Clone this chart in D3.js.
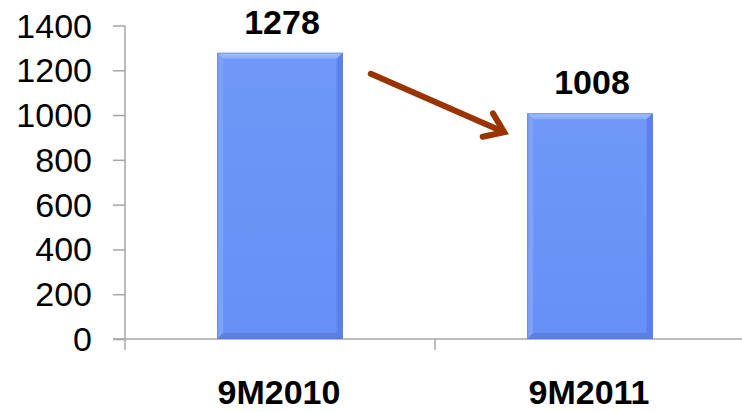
<!DOCTYPE html>
<html>
<head>
<meta charset="utf-8">
<script src="https://cdn.jsdelivr.net/npm/d3@7"></script>
<style>
  html, body { margin: 0; padding: 0; background: #fff; }
  svg { display: block; font-family: "Liberation Sans", Arial, sans-serif; }
</style>
</head>
<body>
<svg id="chart" width="742" height="412"></svg>
<script>
// Period totals
const categories = ["9M2010", "9M2011"];
const values = [1278, 1008];
const yTicks = [0, 200, 400, 600, 800, 1000, 1200, 1400];

const svg = d3.select("#chart");
const W = 742, H = 412;

const y = d3.scaleLinear().domain([0, 1400]).range([339, 25.5]);
const x = d3.scaleBand().domain(categories).range([125, 745]).padding(0);
const barW = x.bandwidth() * 0.405;
const axisColor = "#a6a6a6";

// Y axis
const yAxis = svg.append("g").attr("transform", "translate(125,0)")
  .call(d3.axisLeft(y).tickValues(yTicks).tickSize(12).tickPadding(21).tickFormat(d3.format("d")));
yAxis.select(".domain").attr("stroke", axisColor).attr("stroke-width", 1.5).attr("d", `M0,${y(1400)}V${y(0)}`);
yAxis.selectAll(".tick line").attr("stroke", axisColor).attr("stroke-width", 1.5);
yAxis.selectAll(".tick text").attr("font-size", 34).attr("fill", "#000").attr("dy", "0.34em");

// X axis baseline and category dividers
svg.append("line").attr("x1", 113).attr("x2", 742).attr("y1", y(0)).attr("y2", y(0))
  .attr("stroke", axisColor).attr("stroke-width", 1.5);
const dividers = [x.range()[0], ...categories.slice(1).map(c => x(c))];
svg.selectAll(".xtick").data(dividers).enter().append("line")
  .attr("x1", d => d).attr("x2", d => d).attr("y1", y(0)).attr("y2", y(0) + 11)
  .attr("stroke", axisColor).attr("stroke-width", 1.5);

svg.selectAll(".cat").data(categories).enter().append("text")
  .attr("x", d => x(d) + x.bandwidth() / 2 - 1)
  .attr("y", 404)
  .attr("text-anchor", "middle").attr("font-size", 34).attr("font-weight", "bold")
  .text(d => d);

// Gradients for the bevelled bars
const defs = svg.append("defs");
const gTop = defs.append("linearGradient").attr("id", "bevTop").attr("x1", 0).attr("y1", 0).attr("x2", 0).attr("y2", 1);
gTop.append("stop").attr("offset", 0).attr("stop-color", "#a9c3fc");
gTop.append("stop").attr("offset", 1).attr("stop-color", "#86a9f9");
const gBody = defs.append("linearGradient").attr("id", "body").attr("x1", 0).attr("y1", 0).attr("x2", 0).attr("y2", 1);
gBody.append("stop").attr("offset", 0).attr("stop-color", "#6f98f8");
gBody.append("stop").attr("offset", 1).attr("stop-color", "#6690f5");

const bev = 6;
const bars = svg.selectAll(".bar").data(categories.map((c, i) => ({ c, v: values[i] }))).enter().append("g");
bars.each(function(d) {
  const g = d3.select(this);
  const x0 = x(d.c) + (x.bandwidth() - barW) / 2, x1 = x0 + barW;
  const y0 = y(d.v), y1 = y(0);
  g.append("rect").attr("x", x0).attr("y", y0).attr("width", barW).attr("height", y1 - y0).attr("fill", "url(#body)");
  // top bevel
  g.append("path").attr("d", `M${x0},${y0}H${x1}L${x1 - bev},${y0 + bev}H${x0 + bev}Z`).attr("fill", "url(#bevTop)");
  // left bevel
  g.append("path").attr("d", `M${x0},${y0}L${x0 + bev},${y0 + bev}V${y1 - bev}L${x0},${y1}Z`).attr("fill", "#7ea2f9");
  // right bevel
  g.append("path").attr("d", `M${x1},${y0}L${x1 - bev},${y0 + bev}V${y1 - bev}L${x1},${y1}Z`).attr("fill", "#5a82e6");
  // bottom bevel
  g.append("path").attr("d", `M${x0},${y1}L${x0 + bev},${y1 - bev}H${x1 - bev}L${x1},${y1}Z`).attr("fill", "#5b80e0");
  g.append("rect").attr("x", x0 + 0.5).attr("y", y0 + 0.5).attr("width", barW - 1).attr("height", y1 - y0 - 1)
    .attr("fill", "none").attr("stroke", "#5a78c8").attr("stroke-opacity", 0.55).attr("stroke-width", 1);
  g.append("text").attr("x", x0 + barW / 2 + 2).attr("y", y0 - 19)
    .attr("text-anchor", "middle").attr("font-size", 34).attr("font-weight", "bold").text(d.v);
});

// Trend arrow between the two bars
const b0 = x(categories[0]) + (x.bandwidth() + barW) / 2;
const b1 = x(categories[1]) + (x.bandwidth() - barW) / 2;
const sx = b0 + 28, sy = y(values[0]) + 21;
const ex = b1 - 23, ey = y(values[1]) + 19;
const ang = Math.atan2(ey - sy, ex - sx);
const arrowColor = "#993300";
svg.append("line").attr("x1", sx).attr("y1", sy).attr("x2", ex - 3 * Math.cos(ang)).attr("y2", ey - 3 * Math.sin(ang))
  .attr("stroke", arrowColor).attr("stroke-width", 6).attr("stroke-linecap", "round");
const arm = 22, spread = 0.62;
const ax1 = ex - arm * Math.cos(ang - spread), ay1 = ey - arm * Math.sin(ang - spread);
const ax2 = ex - arm * Math.cos(ang + spread), ay2 = ey - arm * Math.sin(ang + spread);
svg.append("path").attr("d", `M${ax1},${ay1}L${ex},${ey}L${ax2},${ay2}`)
  .attr("fill", "none").attr("stroke", arrowColor).attr("stroke-width", 6)
  .attr("stroke-linejoin", "miter").attr("stroke-linecap", "round");
</script>
</body>
</html>
